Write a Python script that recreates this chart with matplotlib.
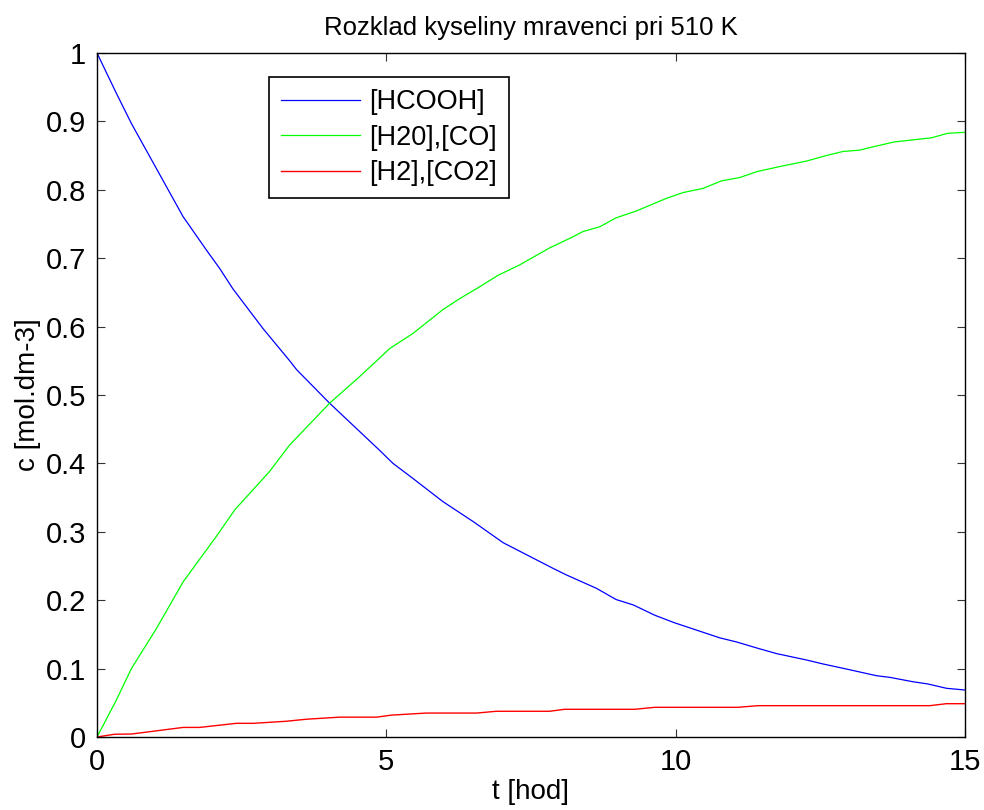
import matplotlib
matplotlib.use('Agg')
import matplotlib.pyplot as plt

plt.rcParams['font.family'] = ['Liberation Sans', 'DejaVu Sans']

# [HCOOH]
t_hcooh = [0, 0.335, 0.594, 1.486, 1.89, 2.12, 2.35, 2.87, 3.33, 3.45, 4.02,
           4.885, 5.115, 5.46, 5.98, 6.50, 7.02, 7.25, 7.88, 8.11, 8.63, 8.97,
           9.27, 9.64, 9.98, 10.76, 11.05, 11.42, 11.74, 12.26, 12.55, 12.95,
           13.47, 13.70, 14.10, 14.36, 14.68, 15.0]
c_hcooh = [1.0, 0.941, 0.897, 0.761, 0.712, 0.685, 0.655, 0.597, 0.550, 0.537,
           0.488, 0.419, 0.400, 0.378, 0.344, 0.315, 0.284, 0.274, 0.2466, 0.237,
           0.2174, 0.201, 0.193, 0.178, 0.167, 0.145, 0.139, 0.1297, 0.122,
           0.1126, 0.1067, 0.0994, 0.0896, 0.0872, 0.0808, 0.0775, 0.0712, 0.0687]

# [H2O],[CO]
t_h2o = [0, 0.335, 0.594, 1.03, 1.49, 2.06, 2.38, 2.98, 3.33, 4.02, 4.54, 5.06,
         5.46, 5.98, 6.27, 6.61, 6.93, 7.30, 7.82, 8.17, 8.40, 8.69, 8.97, 9.32,
         9.84, 10.13, 10.47, 10.79, 11.11, 11.40, 11.80, 12.26, 12.60, 12.89,
         13.18, 13.47, 13.78, 14.10, 14.42, 14.70, 15.0]
c_h2o = [0.0, 0.054, 0.100, 0.159, 0.227, 0.293, 0.332, 0.388, 0.427, 0.488,
         0.527, 0.568, 0.590, 0.625, 0.641, 0.658, 0.675, 0.690, 0.715, 0.729,
         0.739, 0.746, 0.759, 0.769, 0.7875, 0.796, 0.802, 0.813, 0.818, 0.8265,
         0.834, 0.842, 0.850, 0.856, 0.858, 0.864, 0.870, 0.873, 0.876, 0.8826,
         0.884]

# [H2],[CO2]
t_h2 = [0, 0.3, 0.6, 1.49, 1.77, 2.41, 2.7, 3.27, 3.62, 4.19, 4.83, 5.09, 5.69,
        6.56, 6.90, 7.82, 8.08, 9.29, 9.64, 11.08, 11.42, 14.39, 14.68, 15.0]
c_h2 = [0.0, 0.004, 0.0044, 0.014, 0.014, 0.020, 0.020, 0.023, 0.026, 0.029,
        0.029, 0.032, 0.035, 0.035, 0.0376, 0.0376, 0.0405, 0.0405, 0.0434,
        0.0434, 0.0458, 0.0458, 0.0487, 0.0487]

labels = ['[HCOOH]', '[H20],[CO]', '[H2],[CO2]']

fig = plt.figure(figsize=(9.84, 8.10), dpi=100)
ax = fig.add_axes([97 / 984, 73 / 810, 868 / 984, 684 / 810])

ax.plot(t_hcooh, c_hcooh, color='#0000ff', lw=0.9, label=labels[0])
ax.plot(t_h2o, c_h2o, color='#00ff00', lw=0.9, label=labels[1])
ax.plot(t_h2, c_h2, color='#ff0000', lw=1.0, label=labels[2])

ax.set_xlim(0, 15)
ax.set_ylim(0, 1)
ax.set_xticks([0, 5, 10, 15])
ax.set_yticks([i / 10 for i in range(11)])
ax.set_yticklabels(['0', '0.1', '0.2', '0.3', '0.4', '0.5', '0.6', '0.7', '0.8', '0.9', '1'])
ax.tick_params(direction='in', length=6, width=0.8, color='#333333',
               top=True, right=True, labelsize=21, pad=8)
for s in ax.spines.values():
    s.set_linewidth(1.0)
    s.set_color('black')

ax.set_title('Rozklad kyseliny mravenci pri 510 K', fontsize=18.5, pad=13)
ax.set_xlabel('t [hod]', fontsize=20, labelpad=2)
ax.set_ylabel('c [mol.dm-3]', fontsize=20, labelpad=3)

leg = ax.legend(loc='upper left', bbox_to_anchor=(0.198, 0.965), fontsize=19.5,
                fancybox=False, framealpha=1, edgecolor='black',
                handlelength=2.9, handletextpad=0.35, borderpad=0.45,
                labelspacing=0.35, borderaxespad=0)
leg.get_frame().set_linewidth(1.2)

fig.savefig('out.png', dpi=100)
